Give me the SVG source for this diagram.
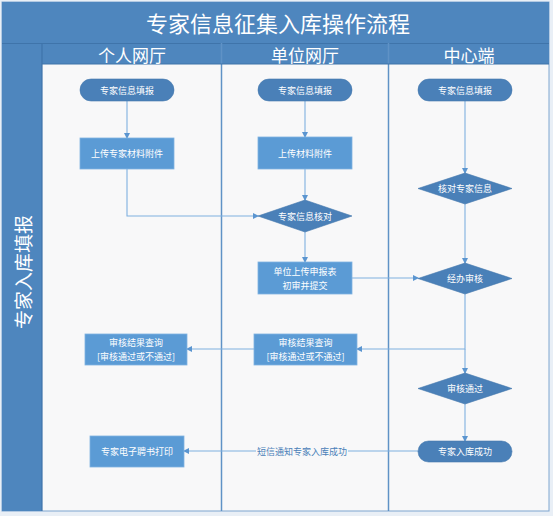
<svg xmlns="http://www.w3.org/2000/svg" width="553" height="516" viewBox="0 0 553 516">
<defs>
<marker id="ah" markerWidth="6" markerHeight="6" refX="5" refY="3" orient="auto" markerUnits="userSpaceOnUse">
<path d="M0,0 L6,3 L0,6 Z" fill="#5b95d0"/>
</marker>
<style>
.band{fill:#4e86be}
.sep{stroke:#3f74aa;stroke-width:1.2;fill:none}
.lane{stroke:#5f92c6;stroke-width:1.5;fill:none}
.pill,.dia{fill:#4a80b8;stroke:#4377ad;stroke-width:0.6}
.box{fill:#5b9bd5;stroke:#7fb2e2;stroke-width:0.8}
.t{font-family:"Noto Sans CJK SC","Liberation Sans",sans-serif;fill:#ffffff;text-anchor:middle;dominant-baseline:central}
.n{font-size:9px}
.h{font-size:17px}
.c{stroke:#7fb0e0;stroke-width:1.1;fill:none;marker-end:url(#ah)}
.cl{stroke:#7fb0e0;stroke-width:1.1;fill:none}
.lbl{font-family:"Noto Sans CJK SC","Liberation Sans",sans-serif;font-size:9px;fill:#4a80b8;text-anchor:middle;dominant-baseline:central}
</style>
</defs>
<rect x="0" y="0" width="553" height="516" fill="#e9eff6"/>
<g id="frame">
<rect x="2" y="2" width="547" height="509" fill="#f8f8f9" stroke="#7fa6cf" stroke-width="1"/>
<rect class="band" x="2" y="2" width="547" height="62"/>
<rect class="band" x="2" y="43" width="40" height="468"/>
<line class="sep" x1="2" y1="43.5" x2="549" y2="43.5"/>
<line class="sep" x1="42" y1="43" x2="42" y2="511"/>
<line class="lane" x1="221.5" y1="43" x2="221.5" y2="511"/>
<line class="lane" x1="388.5" y1="43" x2="388.5" y2="511"/>
<line class="sep" x1="42" y1="64" x2="549" y2="64"/>
<text class="t" x="278" y="22" font-size="22">专家信息征集入库操作流程</text>
<text class="t h" x="132" y="54">个人网厅</text>
<text class="t h" x="305" y="54">单位网厅</text>
<text class="t h" x="469" y="54">中心端</text>
<text class="t" font-size="19" transform="translate(22,272) rotate(-90)">专家入库填报</text>
</g>
<g id="connectors">
<path class="c" d="M127,101 V138"/>
<path class="c" d="M127,169 V216 H258"/>
<path class="c" d="M305,101 V137"/>
<path class="c" d="M305,169 V200"/>
<path class="c" d="M305,232 V262"/>
<path class="c" d="M352,278 H418"/>
<path class="c" d="M465,101 V173"/>
<path class="c" d="M465,204 V263"/>
<path class="c" d="M465,294 V349 H357"/>
<path class="c" d="M465,349 V373"/>
<path class="c" d="M254,349 H187"/>
<path class="c" d="M465,404 V441"/>
<path class="c" d="M418,451 H184"/>
<rect x="256" y="444" width="92" height="14" fill="#f8f8f9"/>
<text class="lbl" x="302" y="451">短信通知专家入库成功</text>
</g>
<g id="n1"><rect class="pill" x="80" y="79" width="94" height="22" rx="11"/><text class="t n" x="127" y="90">专家信息填报</text></g>
<g id="n2"><rect class="box" x="80" y="138" width="94" height="31"/><text class="t n" x="127" y="153.5">上传专家材料附件</text></g>
<g id="n3"><rect class="pill" x="258" y="79" width="94" height="22" rx="11"/><text class="t n" x="305" y="90">专家信息填报</text></g>
<g id="n4"><rect class="box" x="258" y="137" width="94" height="32"/><text class="t n" x="305" y="153">上传材料附件</text></g>
<g id="n5"><polygon class="dia" points="305,200 352,216 305,232 258,216"/><text class="t n" x="305" y="216">专家信息核对</text></g>
<g id="n6"><rect class="box" x="258" y="262" width="94" height="32"/><text class="t n" x="305" y="271">单位上传申报表</text><text class="t n" x="305" y="285">初审并提交</text></g>
<g id="n7"><rect class="pill" x="418" y="79" width="94" height="22" rx="11"/><text class="t n" x="465" y="90">专家信息填报</text></g>
<g id="n8"><polygon class="dia" points="465,173 512,188.5 465,204 418,188.5"/><text class="t n" x="465" y="188.5">核对专家信息</text></g>
<g id="n9"><polygon class="dia" points="465,263 512,278.5 465,294 418,278.5"/><text class="t n" x="465" y="278.5">经办审核</text></g>
<g id="n10"><rect class="box" x="254" y="334" width="103" height="31"/><text class="t n" x="305.5" y="342.5">审核结果查询</text><text class="t n" x="305.5" y="356.5">[审核通过或不通过]</text></g>
<g id="n11"><rect class="box" x="85" y="334" width="102" height="31"/><text class="t n" x="136" y="342.5">审核结果查询</text><text class="t n" x="136" y="356.5">[审核通过或不通过]</text></g>
<g id="n12"><polygon class="dia" points="465,373 512,388.5 465,404 418,388.5"/><text class="t n" x="465" y="388.5">审核通过</text></g>
<g id="n13"><rect class="pill" x="418" y="441" width="94" height="21" rx="10.5"/><text class="t n" x="465" y="451.5">专家入库成功</text></g>
<g id="n14"><rect class="box" x="90" y="436" width="94" height="31"/><text class="t n" x="137" y="451.5">专家电子聘书打印</text></g>
</svg>
